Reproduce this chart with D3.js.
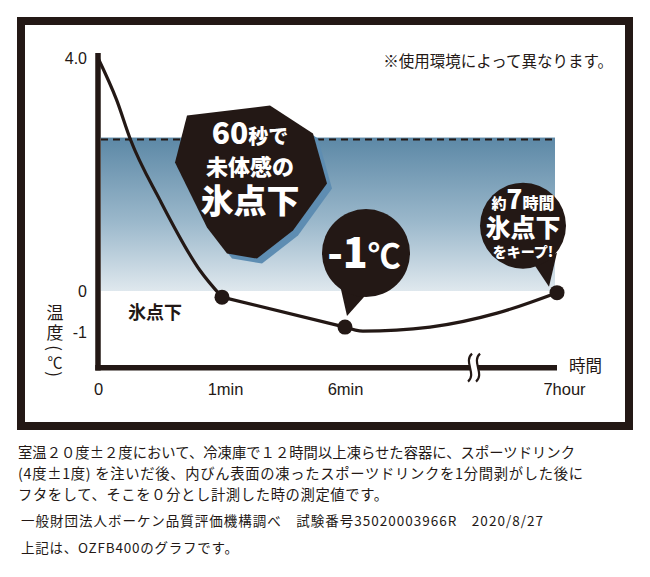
<!DOCTYPE html>
<html lang="ja">
<head>
<meta charset="utf-8">
<script src="https://cdn.jsdelivr.net/npm/d3@7"></script>
<style>
  html, body { margin: 0; padding: 0; background: #fff; }
  svg { display: block; font-family: "Noto Sans CJK JP", "Noto Sans", sans-serif; }
</style>
</head>
<body>
<svg width="650" height="577"></svg>
<script>
(function() {
    'use strict';

    // x axis ticks (minutes) and their labels
    var timeTicks = [0, 1, 6, 420];
    var timeLabels = ["0", "1min", "6min", "7hour"];

    // y axis ticks (deg C)
    var tempTicks = [4.0, 0, -1];
    var tempLabels = ["4.0", "0", "-1"];

    // temperature curve
    var traceTimes = [0, 0.15, 0.26, 0.5, 0.82, 1, 6, 41, 172, 303, 420];
    var traceTemps = [4.0, 3.28, 2.61, 1.56, 0.36, -0.15, -0.88, -0.98, -0.88, -0.54, -0.04];

    // measured points with dots
    var markerTimes = [1, 6, 420];
    var markerTemps = [-0.15, -0.88, -0.04];

    var feelTemp = 2.6;     // dashed line, top of the blue band
    var floorTemp = -1.87;  // where the time axis sits
    var breakTime = 258;    // axis break

    var yTitle = ["温", "度", "(", "℃", ")"];

    var noteTop = "※使用環境によって異なります。";
    var noteLines = [
        "室温２０度±２度において、冷凍庫で１２時間以上凍らせた容器に、スポーツドリンク",
        "(4度±1度) を注いだ後、内びん表面の凍ったスポーツドリンクを1分間剥がした後に",
        "フタをして、そこを０分とし計測した時の測定値です。",
        "一般財団法人ボーケン品質評価機構調べ　試験番号35020003966R　2020/8/27",
        "上記は、OZFB400のグラフです。"
    ];

    var ink = "#231815";
    var latin = "'Liberation Sans', Arial, sans-serif";

    var svg = d3.select("svg");

    var x = d3.scaleLinear().domain(timeTicks).range([98, 222, 345, 557]);
    var y = d3.scaleLinear().domain([-1, 0, 4]).range([332, 291, 58]);

    // gradient for the "felt as below zero" band
    var grad = svg.append("defs").append("linearGradient")
        .attr("id", "band").attr("x1", 0).attr("y1", 0).attr("x2", 0).attr("y2", 1);
    grad.append("stop").attr("offset", "0%").attr("stop-color", "#5c88a6");
    grad.append("stop").attr("offset", "55%").attr("stop-color", "#9bb8cb");
    grad.append("stop").attr("offset", "100%").attr("stop-color", "#dfe8ee");

    // outer frame
    svg.append("rect")
        .attr("x", 21).attr("y", 21).attr("width", 608).attr("height", 405)
        .attr("fill", "none").attr("stroke", ink).attr("stroke-width", 8);

    svg.append("rect")
        .attr("x", x(0) + 3).attr("y", y(feelTemp) - 2)
        .attr("width", x(420) - x(0) - 5).attr("height", y(0) - y(feelTemp) + 2)
        .attr("fill", "url(#band)");

    svg.append("line")
        .attr("x1", x(0) + 3).attr("x2", x(420))
        .attr("y1", y(feelTemp)).attr("y2", y(feelTemp))
        .attr("stroke", ink).attr("stroke-width", 2)
        .attr("stroke-dasharray", "7,5");

    // axes: labels from d3 axes, thick lines drawn by hand
    var yAxis = svg.append("g")
        .attr("transform", "translate(" + x(0) + ",0)")
        .call(d3.axisLeft(y).tickValues(tempTicks).tickSize(0).tickPadding(11)
            .tickFormat(function(d, i) { return tempLabels[i]; }));
    yAxis.select(".domain").remove();
    yAxis.selectAll("text").attr("font-size", 16).attr("fill", ink)
        .attr("font-family", latin);

    var xAxis = svg.append("g")
        .attr("transform", "translate(0," + y(floorTemp) + ")")
        .call(d3.axisBottom(x).tickValues(timeTicks).tickSize(0).tickPadding(16)
            .tickFormat(function(d, i) { return timeLabels[i]; }));
    xAxis.select(".domain").remove();
    xAxis.selectAll("text").attr("font-size", 16.5).attr("fill", ink)
        .attr("font-family", latin)
        .attr("dx", function(d) { return d === 420 ? 7 : d === 1 ? 3 : 0; });

    svg.append("line")
        .attr("x1", x(0)).attr("x2", x(0))
        .attr("y1", y(4) - 5).attr("y2", y(floorTemp) + 2.75)
        .attr("stroke", ink).attr("stroke-width", 5.5);
    svg.append("line")
        .attr("x1", x(0) - 2.75).attr("x2", x(420))
        .attr("y1", y(floorTemp)).attr("y2", y(floorTemp))
        .attr("stroke", ink).attr("stroke-width", 5.5);

    // axis break
    var bx = x(breakTime), by = y(floorTemp);
    svg.append("rect")
        .attr("x", bx - 4).attr("y", by - 4).attr("width", 8).attr("height", 8)
        .attr("fill", "#fff");
    [-4, 4].forEach(function(o) {
        var cx = bx + o;
        svg.append("path")
            .attr("d", "M" + (cx + 2) + "," + (by - 14) +
                " C" + (cx - 7) + "," + (by - 6) + " " + (cx + 7) + "," + (by + 6) +
                " " + (cx - 2) + "," + (by + 14))
            .attr("fill", "none").attr("stroke", ink).attr("stroke-width", 2.2);
    });

    svg.append("text")
        .attr("x", 569).attr("y", by + 4)
        .attr("font-size", 16.5).attr("fill", ink)
        .text("時間");

    // vertical axis title, one glyph at a time; brackets turned sideways
    var titleY = [311, 331, 348, 361, 374];
    svg.selectAll("text.ytitle")
        .data(yTitle)
        .enter().append("text")
        .attr("class", "ytitle")
        .attr("transform", function(d, i) {
            var rot = (d === "(" || d === ")") ? " rotate(90)" : "";
            return "translate(55," + titleY[i] + ")" + rot;
        })
        .attr("text-anchor", "middle")
        .attr("dominant-baseline", "central")
        .attr("font-size", function(d) { return d === "℃" ? 15 : 17; })
        .attr("fill", ink)
        .text(function(d) { return d; });

    // curve, split at the measured points so the corners stay
    var trace = traceTimes.map(function(t, i) { return [t, traceTemps[i]]; });
    var line = d3.line()
        .x(function(d) { return x(d[0]); })
        .y(function(d) { return y(d[1]); })
        .curve(d3.curveMonotoneX);
    [[0, 1], [1, 6], [6, 420]].forEach(function(r) {
        svg.append("path")
            .datum(trace.filter(function(d) { return d[0] >= r[0] && d[0] <= r[1]; }))
            .attr("d", line)
            .attr("fill", "none").attr("stroke", ink).attr("stroke-width", 3.2);
    });

    svg.selectAll("circle.dot")
        .data(markerTimes)
        .enter().append("circle")
        .attr("class", "dot")
        .attr("cx", function(d) { return x(d); })
        .attr("cy", function(d, i) { return y(markerTemps[i]); })
        .attr("r", 7.5)
        .attr("fill", ink);

    svg.append("text")
        .attr("x", 128).attr("y", 319)
        .attr("font-size", 18).attr("font-weight", 700).attr("fill", ink)
        .text("氷点下");

    // rock-shaped callout
    var rock = [[-75, -20], [-63, -67], [20, -77], [63, -49], [77, 1],
        [43, 48], [7, 76], [-23, 71], [-43, 45]];
    var rx = x(1) + 28, ry = y(feelTemp) + 43;
    var rockG = svg.append("g").attr("transform", "translate(" + rx + "," + ry + ")");
    rockG.append("polygon")
        .attr("points", rock.map(function(p) { return (p[0] + 5) + "," + (p[1] + 5); }).join(" "))
        .attr("fill", "#5e8db2");
    rockG.append("polygon")
        .attr("points", rock.map(function(p) { return p.join(","); }).join(" "))
        .attr("fill", ink);
    var t1 = rockG.append("text").attr("text-anchor", "middle").attr("fill", "#fff")
        .attr("font-weight", 900).attr("y", -39);
    t1.append("tspan").attr("font-size", 30).text("60");
    t1.append("tspan").attr("font-size", 20).text("秒で");
    rockG.append("text").attr("text-anchor", "middle").attr("fill", "#fff")
        .attr("font-weight", 900).attr("font-size", 22).attr("y", -8)
        .text("未体感の");
    rockG.append("text").attr("text-anchor", "middle").attr("fill", "#fff")
        .attr("font-weight", 900).attr("font-size", 33).attr("y", 30)
        .text("氷点下");

    // round speech bubbles
    function bubble(cx, cy, r, tail) {
        var g = svg.append("g").attr("transform", "translate(" + cx + "," + cy + ")");
        g.append("polygon").attr("points", tail.map(function(p) { return p.join(","); }).join(" "))
            .attr("fill", ink);
        g.append("circle").attr("r", r).attr("fill", ink);
        return g;
    }

    var b1 = bubble(x(6) + 21, y(markerTemps[1]) - 74, 44, [[-26, 32], [6, 35], [-19, 63]]);
    var bt = b1.append("text").attr("text-anchor", "middle").attr("fill", "#fff")
        .attr("x", -2).attr("y", 15);
    bt.append("tspan").attr("font-size", 41).attr("font-weight", 900).text("-1");
    bt.append("tspan").attr("font-size", 33).attr("font-weight", 700).text("℃");

    var b2 = bubble(x(420) - 34, y(markerTemps[2]) - 67, 43, [[10, 37], [34, 27], [26, 61]]);
    var l1 = b2.append("text").attr("text-anchor", "middle").attr("fill", "#fff")
        .attr("font-weight", 900).attr("y", -17);
    l1.append("tspan").attr("font-size", 15).text("約");
    l1.append("tspan").attr("font-size", 26).text("7");
    l1.append("tspan").attr("font-size", 16).text("時間");
    b2.append("text").attr("text-anchor", "middle").attr("fill", "#fff")
        .attr("font-weight", 900).attr("font-size", 25).attr("y", 11)
        .text("氷点下");
    b2.append("text").attr("text-anchor", "middle").attr("fill", "#fff")
        .attr("font-weight", 900).attr("font-size", 14).attr("y", 31)
        .text("をキープ!");

    svg.append("text")
        .attr("x", 613).attr("y", 67)
        .attr("text-anchor", "end")
        .attr("font-size", 15.5).attr("fill", ink)
        .text(noteTop);

    // notes under the frame
    var noteY = [453, 474, 495, 521, 548];
    var noteW = [557, 565, 370, 522, 217];
    var noteSize = [14.3, 14.3, 14.3, 13.5, 13.5];
    svg.selectAll("text.note")
        .data(noteLines)
        .enter().append("text")
        .attr("class", "note")
        .attr("x", function(d, i) { return i < 3 ? 18 : 21; })
        .attr("y", function(d, i) { return noteY[i] + 5; })
        .attr("font-size", function(d, i) { return noteSize[i]; })
        .attr("textLength", function(d, i) { return noteW[i]; })
        .attr("lengthAdjust", "spacing")
        .attr("fill", ink)
        .text(function(d) { return d; });
})();
</script>
</body>
</html>
